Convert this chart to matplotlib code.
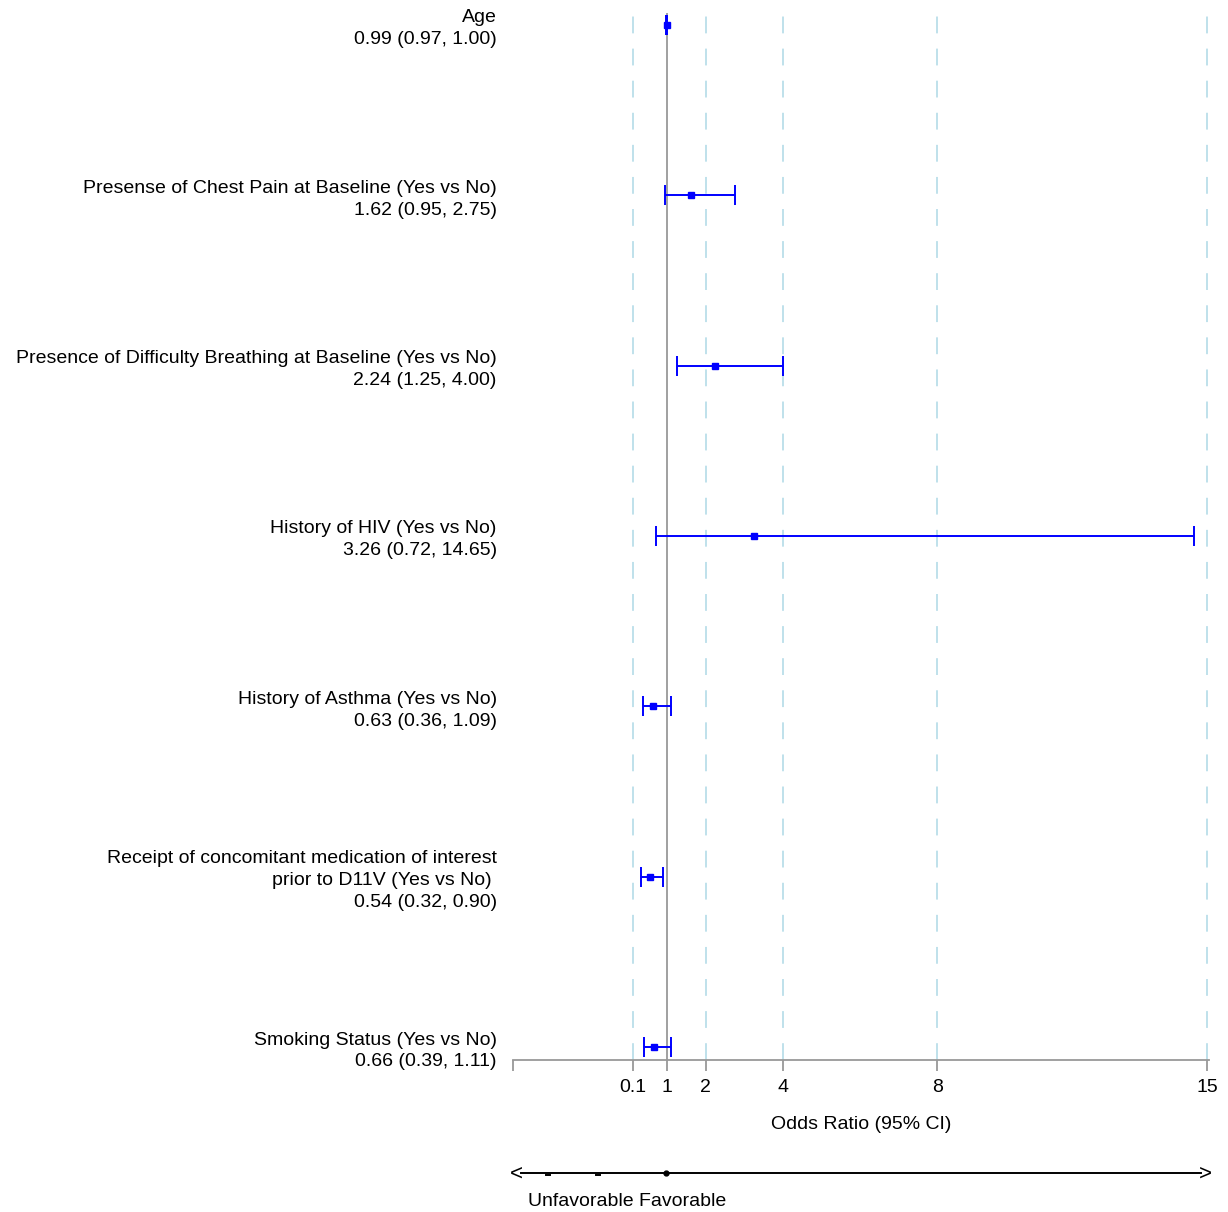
import matplotlib
matplotlib.use("Agg")
import matplotlib.pyplot as plt
from matplotlib.lines import Line2D

plt.rcParams['font.family'] = ['Liberation Sans', 'DejaVu Sans']

# model terms, top to bottom
terms = [
    "Age",
    "Presense of Chest Pain at Baseline (Yes vs No)",
    "Presence of Difficulty Breathing at Baseline (Yes vs No)",
    "History of HIV (Yes vs No)",
    "History of Asthma (Yes vs No)",
    "Receipt of concomitant medication of interest\nprior to D11V (Yes vs No) ",
    "Smoking Status (Yes vs No)",
]
odds = [0.99, 1.62, 2.24, 3.26, 0.63, 0.54, 0.66]
ci_low = [0.97, 0.95, 1.25, 0.72, 0.36, 0.32, 0.39]
ci_high = [1.00, 2.75, 4.00, 14.65, 1.09, 0.90, 1.11]

tick_vals = [-3, 0.1, 1, 2, 4, 8, 15]
tick_text = ["", "0.1", "1", "2", "4", "8", "15"]
ref_lines = [0.1, 2, 4, 8, 15]

FS = 14
W, H = 1228, 1212
fig = plt.figure(figsize=(W / 100, H / 100), dpi=100)

# axes box in pixel terms
left, right, top, bottom = 513, 1209, 13, 1060
ax = fig.add_axes([left / W, 1 - bottom / H, (right - left) / W, (bottom - top) / H])

n = len(terms)
ypos = [n - 1 - i for i in range(n)]
ax.set_xlim(-3, 15.05)
ax.set_ylim(-0.075, n - 1 + 0.07)

for v in ref_lines:
    ax.axvline(v, color="#add8e6", lw=1.1, dashes=(11, 10), zorder=1)
ax.axvline(1, color="#999999", lw=1.3, zorder=2)

err_lo = [o - l for o, l in zip(odds, ci_low)]
err_hi = [h - o for o, h in zip(odds, ci_high)]
ax.errorbar(odds, ypos, xerr=[err_lo, err_hi], fmt="s", color="#0000ff",
            ms=4, elinewidth=1.4, capsize=7, capthick=1.4, zorder=3)

# term names with the estimate underneath
for t, o, l, h, y in zip(terms, odds, ci_low, ci_high, ypos):
    txt = f"{t}\n{o:.2f} ({l:.2f}, {h:.2f})"
    ax.annotate(txt, xy=(-3.42, y), xytext=(0, -2.7), textcoords="offset points",
                ha="right", va="center", fontsize=FS, linespacing=1.38,
                annotation_clip=False)

for s in ["left", "right", "top"]:
    ax.spines[s].set_visible(False)
ax.spines["bottom"].set_color("#999999")
ax.spines["bottom"].set_linewidth(1.3)
ax.set_yticks([])
ax.set_xticks(tick_vals)
ax.set_xticklabels(tick_text, fontsize=FS)
ax.tick_params(axis="x", length=8, width=1.3, color="#999999", pad=6)
ax.set_xlabel("Odds Ratio (95% CI)", fontsize=FS, labelpad=14)

# direction arrow under the axis
ay = 1 - 1173 / H
fig.add_artist(Line2D([521 / W, 1201 / W], [ay, ay], color="black", lw=1.4))
for px in (548, 598):
    fig.add_artist(Line2D([(px - 2) / W, (px + 2) / W], [ay - 1.5 / H, ay - 1.5 / H],
                          color="black", lw=1.4))
fig.add_artist(Line2D([666 / W], [ay], marker="o", ms=3.5, color="black"))
fig.text(516 / W, ay - 1 / H, "<", ha="center", va="center", fontsize=16)
fig.text(1205 / W, ay - 1 / H, ">", ha="center", va="center", fontsize=16)
fig.text(528 / W, 1 - 1201 / H, "Unfavorable Favorable", ha="left", va="center",
         fontsize=FS)

fig.savefig("out.png", dpi=100)
